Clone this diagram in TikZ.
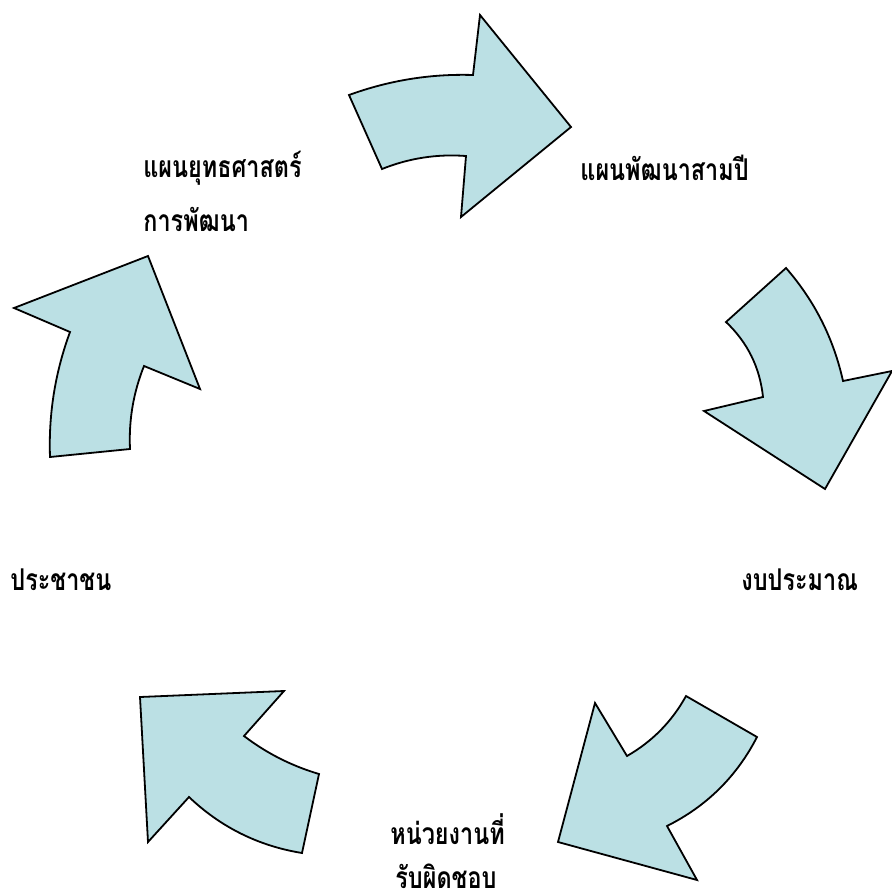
\documentclass[tikz,border=0pt]{standalone}
\usepackage{fontspec}
\usetikzlibrary{calc}
\newfontfamily\thaifont[Script=Thai,FakeStretch=0.78]{Loma}
\definecolor{arrowfill}{RGB}{187,224,228}
\begin{document}
\begin{tikzpicture}[x=0.5pt,y=-0.5pt,
  cyclearrow/.style={fill=arrowfill,draw=black,line width=0.9pt,line join=miter},
  label/.style={font=\thaifont\bfseries\fontsize{15}{18}\selectfont,inner sep=0pt,anchor=west}]
\useasboundingbox (0,0) rectangle (892,894);
% arrow 1 (top)
\draw[cyclearrow] (349,95) .. controls ($(349,95)!0.667!(409.5,73)$) and ($(473,75)!0.667!(409.5,73)$) .. (473,75) -- (480,15) -- (571,127) -- (461,217) -- (466,156) .. controls ($(466,156)!0.667!(422.5,152.75)$) and ($(382,169)!0.667!(422.5,152.75)$) .. (382,169) -- cycle;
% arrow 2 (right)
\draw[cyclearrow] (726,322) -- (786,268) .. controls ($(786,268)!0.667!(828.75,317)$) and ($(843,381)!0.667!(828.75,317)$) .. (843,381) -- (892,371) -- (825,489) -- (704,411) -- (763,397) .. controls ($(763,397)!0.667!(758.3,352.6)$) and ($(726,322)!0.667!(758.3,352.6)$) .. (726,322) -- cycle;
% arrow 3 (bottom right)
\draw[cyclearrow] (686,696) -- (757,737) .. controls ($(757,737)!0.667!(726.55,796.2)$) and ($(667,826)!0.667!(726.55,796.2)$) .. (667,826) -- (697,880) -- (558,842) -- (595,703) -- (627,756) .. controls ($(627,756)!0.667!(664.9,734.25)$) and ($(686,696)!0.667!(664.9,734.25)$) .. (686,696) -- cycle;
% arrow 4 (bottom left)
\draw[cyclearrow] (140,697) -- (284,691) -- (244,736) .. controls ($(244,736)!0.667!(277.75,761.75)$) and ($(319,774)!0.667!(277.75,761.75)$) .. (319,774) -- (302,853) .. controls ($(302,853)!0.667!(236.8,842.4)$) and ($(189,797)!0.667!(236.8,842.4)$) .. (189,797) -- (148,842) -- cycle;
% arrow 5 (left)
\draw[cyclearrow] (50,457) -- (130,449) .. controls ($(130,449)!0.667!(128,406)$) and ($(144,366)!0.667!(128,406)$) .. (144,366) -- (200,389) -- (148,256) -- (14,308) -- (70,332) .. controls ($(70,332)!0.667!(47.7,392.55)$) and ($(50,457)!0.667!(47.7,392.55)$) .. (50,457) -- cycle;
% labels
\node[label] (strat1) at (143,168) {แผนยุทธศาสตร์};
\node[label] (strat2) at (143,219) {การพัฒนา};
\node[label] (plan) at (580,168) {แผนพัฒนาสามปี};
\node[label] (budget) at (741,580) {งบประมาณ};
\node[label] (unit1) at (390,829) {หน่วยงานที่};
\node[label] (unit2) at (395,876) {รับผิดชอบ};
\node[label] (people) at (10,580) {ประชาชน};
\end{tikzpicture}
\end{document}
